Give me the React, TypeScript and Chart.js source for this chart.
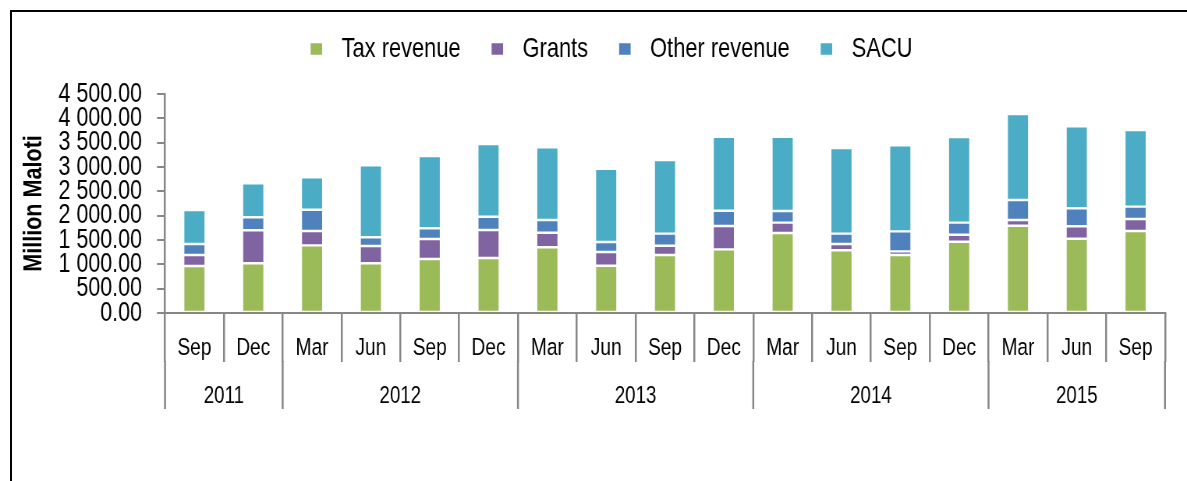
import React, { useEffect, useRef } from 'react';
import { Chart, registerables } from 'chart.js';

Chart.register(...registerables);

const months = ['Sep', 'Dec', 'Mar', 'Jun', 'Sep', 'Dec', 'Mar', 'Jun', 'Sep', 'Dec', 'Mar', 'Jun', 'Sep', 'Dec', 'Mar', 'Jun', 'Sep'];
const years = ['2011', '2011', '2012', '2012', '2012', '2012', '2013', '2013', '2013', '2013', '2014', '2014', '2014', '2014', '2015', '2015', '2015'];

const taxRevenue = [966, 1021, 1390, 1021, 1110, 1130, 1350, 972, 1192, 1308, 1644, 1288, 1192, 1465, 1794, 1527, 1685];
const grants = [226, 678, 295, 356, 410, 575, 300, 281, 191, 480, 212, 130, 75, 144, 117, 254, 246];
const otherRevenue = [226, 267, 438, 178, 220, 274, 261, 206, 247, 314, 240, 212, 411, 247, 411, 370, 254];
const sacu = [698, 699, 665, 1479, 1486, 1493, 1493, 1506, 1514, 1521, 1527, 1760, 1767, 1760, 1767, 1685, 1575];

const seriesNames = ['Tax revenue', 'Grants', 'Other revenue', 'SACU'];
const seriesColors = ['#9BBB59', '#8064A2', '#4F81BD', '#4BACC6'];

const yMin = 0;
const yMax = 4500;
const yStep = 500;
const yTitle = 'Million Maloti';

// The canvas is drawn wider than shown and squeezed horizontally, so that
// Liberation Sans looks like the narrow Arial of the original.
const PAGE_W = 1187;
const PAGE_H = 481;
const CANVAS_W = 1522;
const K = PAGE_W / CANVAS_W;
const hx = (v: number) => v / K; // page-horizontal px -> canvas px

const FONT = "'Liberation Sans', Arial, sans-serif";
const LINE = '#878787';

function fmt(v: number): string {
  const [i, d] = v.toFixed(2).split('.');
  return i.replace(/\B(?=(\d{3})+(?!\d))/g, ' ') + '.' + d;
}

const hierarchyPlugin = {
  id: 'hierarchy',
  afterDraw(chart: any) {
    const xs = chart.scales.x;
    const ys = chart.scales.y;
    const ctx = chart.ctx;
    const axisY = xs.top;
    const monthBottom = axisY + 49;
    const yearBottom = axisY + 96;
    const n = months.length;
    const bounds: number[] = [];
    for (let i = 0; i <= n; i++) {
      let px: number;
      if (i === 0) px = xs.left;
      else if (i === n) px = xs.right;
      else px = (xs.getPixelForValue(i - 1) + xs.getPixelForValue(i)) / 2;
      bounds.push(px);
    }
    ctx.save();
    ctx.strokeStyle = LINE;
    ctx.lineWidth = 2.5;
    for (let i = 0; i <= n; i++) {
      if (i === 0 || i === n || years[i] !== years[i - 1]) {
        ctx.beginPath();
        ctx.moveTo(bounds[i], monthBottom - 1);
        ctx.lineTo(bounds[i], yearBottom);
        ctx.stroke();
      }
    }
    ctx.font = `24px ${FONT}`;
    ctx.fillStyle = '#000';
    ctx.textAlign = 'center';
    ctx.textBaseline = 'middle';
    let s = 0;
    for (let i = 1; i <= n; i++) {
      if (i === n || years[i] !== years[s]) {
        ctx.fillText(years[s], (bounds[s] + bounds[i]) / 2, axisY + 83);
        s = i;
      }
    }
    ctx.restore();

    // y-axis title (narrow bold, rotated)
    ctx.save();
    ctx.translate(hx(34), (ys.top + ys.bottom) / 2);
    ctx.scale(1 / K, 1);
    ctx.rotate(-Math.PI / 2);
    ctx.scale(0.83, 1);
    ctx.font = `bold 26px ${FONT}`;
    ctx.fillStyle = '#000';
    ctx.textAlign = 'center';
    ctx.textBaseline = 'middle';
    ctx.fillText(yTitle, 0, 0);
    ctx.restore();

    // legend
    ctx.save();
    ctx.font = `28px ${FONT}`;
    ctx.textBaseline = 'middle';
    ctx.textAlign = 'left';
    const box = hx(11.5);
    const gapText = hx(31);
    const gapItem = hx(31);
    const widths = chart.data.datasets.map((d: any) => ctx.measureText(d.label).width);
    let total = 0;
    widths.forEach((w: number, i: number) => {
      total += gapText + w + (i < widths.length - 1 ? gapItem : 0);
    });
    let x = hx(611.5) - total / 2;
    const cy = 49;
    chart.data.datasets.forEach((d: any, i: number) => {
      ctx.fillStyle = d.backgroundColor;
      ctx.fillRect(x, cy - 5.75, box, 11.5);
      ctx.fillStyle = '#000';
      ctx.fillText(d.label, x + gapText, cy);
      x += gapText + widths[i] + gapItem;
    });
    ctx.restore();
  },
};

export default function App() {
  const ref = useRef<HTMLCanvasElement>(null);

  useEffect(() => {
    if (!ref.current) return;
    const values = [taxRevenue, grants, otherRevenue, sacu];
    const chart = new Chart(ref.current, {
      type: 'bar',
      data: {
        labels: months,
        datasets: values.map((data, i) => ({
          label: seriesNames[i],
          data,
          backgroundColor: seriesColors[i],
          borderColor: '#ffffff',
          borderWidth: 1.2,
          borderSkipped: false,
          categoryPercentage: 1,
          barPercentage: 0.374,
        })),
      },
      options: {
        animation: false,
        responsive: false,
        devicePixelRatio: 1,
        layout: { padding: { left: 0, right: hx(22), top: 94, bottom: 0 } },
        plugins: {
          tooltip: { enabled: false },
          legend: { display: false },
        },
        scales: {
          x: {
            stacked: true,
            offset: true,
            grid: {
              display: true,
              drawOnChartArea: false,
              drawTicks: true,
              tickLength: 49,
              color: LINE,
              lineWidth: 2.5,
              offset: true,
            },
            border: { display: true, color: LINE, width: 2 },
            ticks: {
              color: '#000',
              font: { family: FONT, size: 24.5 },
              padding: -28,
              maxRotation: 0,
              autoSkip: false,
            },
            afterFit: (scale: any) => {
              scale.height = 168;
            },
          },
          y: {
            stacked: true,
            min: yMin,
            max: yMax,
            grid: {
              display: true,
              drawOnChartArea: false,
              drawTicks: true,
              tickLength: hx(8),
              color: LINE,
              lineWidth: 2,
            },
            border: { display: true, color: LINE, width: 2.5 },
            ticks: {
              stepSize: yStep,
              autoSkip: false,
              color: '#000',
              padding: hx(15),
              font: { family: FONT, size: 27.5, lineHeight: 1 },
              callback: (v: any) => fmt(Number(v)),
            },
            title: { display: false },
            afterFit: (scale: any) => {
              scale.width = hx(165);
            },
          },
        },
      },
      plugins: [hierarchyPlugin],
    });
    return () => chart.destroy();
  }, []);

  return (
    <div style={{ position: 'fixed', left: 0, top: 0, width: PAGE_W, height: PAGE_H, background: '#fff', overflow: 'hidden' }}>
      <div
        style={{
          position: 'absolute',
          left: 10,
          top: 10,
          width: 1175,
          height: 480,
          borderTop: '2px solid #000',
          borderLeft: '2px solid #000',
        }}
      />
      <canvas
        ref={ref}
        width={CANVAS_W}
        height={PAGE_H}
        style={{ position: 'absolute', left: 0, top: 0, width: PAGE_W, height: PAGE_H }}
      />
    </div>
  );
}
